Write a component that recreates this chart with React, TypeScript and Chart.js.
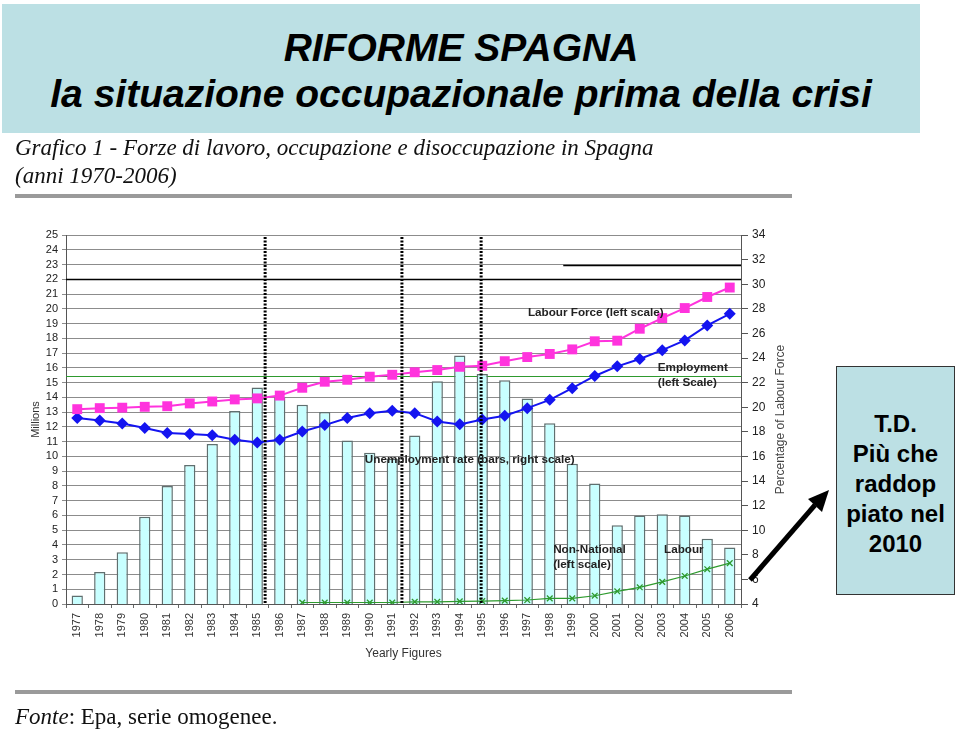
import React, { useEffect, useRef } from "react";
import { Chart, registerables } from "chart.js";
Chart.register(...registerables);

const years = ["1977","1978","1979","1980","1981","1982","1983","1984","1985","1986","1987","1988","1989","1990","1991","1992","1993","1994","1995","1996","1997","1998","1999","2000","2001","2002","2003","2004","2005","2006"];
// Unemployment rate (bars, right scale, %)
const unemploymentRate = [4.7, 6.6, 8.2, 11.1, 13.6, 15.3, 17.0, 19.7, 21.6, 20.8, 20.2, 19.6, 17.3, 16.3, 15.8, 17.7, 22.1, 24.2, 22.7, 22.2, 20.7, 18.7, 15.4, 13.8, 10.4, 11.2, 11.3, 11.2, 9.3, 8.6];
// Labour force (millions, left scale)
const labourForce = [13.2, 13.27, 13.3, 13.36, 13.4, 13.59, 13.72, 13.86, 13.93, 14.12, 14.65, 15.06, 15.19, 15.4, 15.53, 15.7, 15.85, 16.07, 16.14, 16.45, 16.73, 16.94, 17.25, 17.8, 17.84, 18.65, 19.37, 20.05, 20.8, 21.44];
// Employment (millions, left scale)
const employment = [12.6, 12.44, 12.23, 11.92, 11.58, 11.51, 11.44, 11.13, 10.95, 11.13, 11.69, 12.12, 12.6, 12.93, 13.09, 12.93, 12.37, 12.17, 12.5, 12.75, 13.27, 13.83, 14.62, 15.45, 16.1, 16.6, 17.2, 17.86, 18.87, 19.66];
// Non-national labour (millions, left scale)
const nonNational = [null, null, null, null, null, null, null, null, null, null, 0.1, 0.1, 0.1, 0.1, 0.1, 0.15, 0.15, 0.18, 0.2, 0.23, 0.27, 0.38, 0.38, 0.56, 0.86, 1.13, 1.5, 1.9, 2.36, 2.77];

const leftTicks = { min: 0, max: 25, step: 1 };
const rightTicks = { min: 4, max: 34, step: 2 };

// reference lines: value on left scale, starting category index
const horizontalRefs = [
  { value: 22, from: -0.5, color: "#000000", width: 1.5 },
  { value: 23, from: 21.6, color: "#000000", width: 1.5 },
  { value: 15.45, from: -0.5, color: "#2e9a2e", width: 1.2 },
];
// dotted vertical dividers at category positions
const dividers = [8.35, 14.43, 17.95];

// labels: [text, category index, left-scale value]
const notes: [string, number, number][] = [
  ["Labour Force (left scale)", 20.03, 19.7],
  ["Employment", 25.8, 16.0],
  ["(left Scale)", 25.8, 15.0],
  ["Unemployment rate (bars, right scale)", 12.78, 9.76],
  ["Non-National", 21.15, 3.66],
  ["(left scale)", 21.15, 2.64],
  ["Labour", 26.08, 3.66],
];

const overlayPlugin = {
  id: "overlay",
  beforeDatasetsDraw(chart: any) {
    const { ctx, chartArea, scales } = chart;
    const x = scales.x, y = scales.y;
    ctx.save();
    for (const h of horizontalRefs) {
      const py = Math.round(y.getPixelForValue(h.value)) + 0.5;
      const px = h.from < 0 ? chartArea.left : x.getPixelForValue(h.from);
      ctx.strokeStyle = h.color;
      ctx.lineWidth = h.width;
      ctx.beginPath();
      ctx.moveTo(px, py);
      ctx.lineTo(chartArea.right, py);
      ctx.stroke();
    }
    ctx.restore();
  },
  afterDatasetsDraw(chart: any) {
    const { ctx, chartArea, scales } = chart;
    const x = scales.x, y = scales.y;
    ctx.save();
    ctx.strokeStyle = "#000";
    ctx.lineWidth = 3;
    ctx.setLineDash([2, 1.5]);
    for (const d of dividers) {
      const px = x.getPixelForValue(d);
      ctx.beginPath();
      ctx.moveTo(px, chartArea.top + 2);
      ctx.lineTo(px, chartArea.bottom);
      ctx.stroke();
    }
    ctx.setLineDash([]);
    ctx.fillStyle = "#222";
    ctx.font = "bold 11.7px 'Liberation Sans', Arial, sans-serif";
    ctx.textAlign = "left";
    ctx.textBaseline = "middle";
    for (const [t, i, v] of notes) {
      ctx.fillText(t, x.getPixelForValue(i), y.getPixelForValue(v));
    }
    ctx.restore();
  },
  afterDraw(chart: any) {
    const { ctx, chartArea } = chart;
    ctx.save();
    ctx.translate(781, (chartArea.top + chartArea.bottom) / 2);
    ctx.rotate(-Math.PI / 2);
    ctx.fillStyle = "#444";
    ctx.font = "12px 'Liberation Sans', Arial, sans-serif";
    ctx.textAlign = "center";
    ctx.textBaseline = "middle";
    ctx.fillText("Percentage of Labour Force", 0, 0);
    ctx.restore();
  },
};

function ChartCanvas() {
  const ref = useRef<HTMLCanvasElement>(null);
  useEffect(() => {
    if (!ref.current) return;
    const font = "'Liberation Sans', Arial, sans-serif";
    const chart = new Chart(ref.current, {
      type: "bar",
      data: {
        labels: years,
        datasets: [
          {
            type: "line",
            label: "Labour Force",
            data: labourForce,
            yAxisID: "y",
            borderColor: "#ff33dd",
            backgroundColor: "#ff33dd",
            borderWidth: 2,
            pointStyle: "rect",
            pointRadius: 7,
            pointBorderWidth: 0,
            order: 1,
          },
          {
            type: "line",
            label: "Employment",
            data: employment,
            yAxisID: "y",
            borderColor: "#1414f0",
            backgroundColor: "#1414f0",
            borderWidth: 2,
            pointStyle: "rectRot",
            pointRadius: 6,
            pointBorderWidth: 0,
            order: 1,
          },
          {
            type: "line",
            label: "Non-National Labour",
            data: nonNational,
            yAxisID: "y",
            borderColor: "#2e9a2e",
            backgroundColor: "#2e9a2e",
            borderWidth: 1.2,
            pointStyle: "crossRot",
            pointRadius: 4,
            pointBorderWidth: 1.3,
            spanGaps: false,
            order: 1,
          },
          {
            type: "bar",
            label: "Unemployment rate",
            data: unemploymentRate,
            yAxisID: "y1",
            backgroundColor: "#c8ffff",
            borderColor: "#5f6f6f",
            borderWidth: { left: 1.5, right: 1.5, top: 1.5, bottom: 0 },
            borderSkipped: "bottom",
            barPercentage: 0.5,
            categoryPercentage: 1,
            order: 2,
          },
        ],
      },
      options: {
        responsive: false,
        animation: false,
        devicePixelRatio: 1,
        layout: { padding: { left: 0, top: 235, right: 168, bottom: 69 } },
        plugins: { legend: { display: false }, tooltip: { enabled: false }, title: { display: false } },
        scales: {
          x: {
            offset: true,
            afterFit: (s: any) => { s.height = 60; },
            grid: { display: true, drawOnChartArea: false, drawTicks: true, tickLength: 4, color: "#666" },
            border: { display: true, color: "#555", width: 1 },
            ticks: { minRotation: 90, maxRotation: 90, autoSkip: false, padding: 5, color: "#333", font: { family: font, size: 11 } },
            title: { display: true, text: "Yearly Figures", color: "#333", font: { family: font, size: 12 }, padding: { top: 0, bottom: 3 } },
          },
          y: {
            position: "left",
            min: leftTicks.min,
            max: leftTicks.max,
            afterFit: (s: any) => { s.width = 66; },
            ticks: { stepSize: leftTicks.step, autoSkip: false, padding: 4, color: "#222", font: { family: font, size: 11 } },
            grid: { color: "#8c8c8c", lineWidth: 1, tickLength: 4 },
            border: { display: true, color: "#555", width: 1 },
            title: { display: true, text: "Millions", color: "#333", font: { family: font, size: 11 }, padding: { top: 29, bottom: 0 } },
          },
          y1: {
            position: "right",
            min: rightTicks.min,
            max: rightTicks.max,
            afterFit: (s: any) => { s.width = 50; },
            ticks: { stepSize: rightTicks.step, autoSkip: false, padding: 4, color: "#222", font: { family: font, size: 12 } },
            grid: { drawOnChartArea: false, drawTicks: true, tickLength: 7, color: "#555" },
            border: { display: true, color: "#555", width: 1 },
          },
        },
      },
      plugins: [overlayPlugin],
    } as any);
    return () => chart.destroy();
  }, []);
  return <canvas ref={ref} width={959} height={733} style={{ position: "absolute", left: 0, top: 0, width: 959, height: 733 }} />;
}

export default function App() {
  const sans = "'Liberation Sans', Arial, sans-serif";
  const serif = "'Liberation Serif', 'Times New Roman', serif";
  return (
    <div style={{ position: "absolute", left: 0, top: 0, width: 959, height: 733, background: "#fff", overflow: "hidden" }}>
      <ChartCanvas />
      <div style={{ position: "absolute", left: 2, top: 4, width: 918, height: 129, background: "#bce0e4" }} />
      <div style={{ position: "absolute", left: 2, top: 28, width: 918, textAlign: "center", font: `italic bold 39px/39px ${sans}`, color: "#000", whiteSpace: "nowrap" }}>RIFORME SPAGNA</div>
      <div style={{ position: "absolute", left: 2, top: 74, width: 918, textAlign: "center", font: `italic bold 39px/39px ${sans}`, color: "#000", whiteSpace: "nowrap" }}>la situazione occupazionale prima della crisi</div>
      <div style={{ position: "absolute", left: 15, top: 136, font: `italic 23px/23px ${serif}`, color: "#111", whiteSpace: "nowrap" }}>Grafico 1 - Forze di lavoro, occupazione e disoccupazione in Spagna</div>
      <div style={{ position: "absolute", left: 15, top: 164, font: `italic 23px/23px ${serif}`, color: "#111", whiteSpace: "nowrap" }}>(anni 1970-2006)</div>
      <div style={{ position: "absolute", left: 15, top: 194, width: 777, height: 4, background: "#9a9a9a" }} />
      <div style={{ position: "absolute", left: 15, top: 690, width: 777, height: 4, background: "#9a9a9a" }} />
      <div style={{ position: "absolute", left: 15, top: 705, font: `23px/23px ${serif}`, color: "#111", whiteSpace: "nowrap" }}><i>Fonte</i>: Epa, serie omogenee.</div>
      <div style={{ position: "absolute", left: 836, top: 366, width: 119, height: 229, background: "#bce0e4", border: "1px solid #333", boxSizing: "border-box" }}>
        <div style={{ position: "absolute", left: 0, top: 42, width: "100%", textAlign: "center", font: `bold 24px/30px ${sans}`, color: "#000" }}>
          T.D.<br />Più che<br />raddop<br />piato nel<br />2010
        </div>
      </div>
      <svg style={{ position: "absolute", left: 0, top: 0 }} width={959} height={733}>
        <line x1={750} y1={580} x2={815} y2={505} stroke="#000" strokeWidth={5} />
        <polygon points="829,490 808,499 822,512" fill="#000" />
      </svg>
    </div>
  );
}
